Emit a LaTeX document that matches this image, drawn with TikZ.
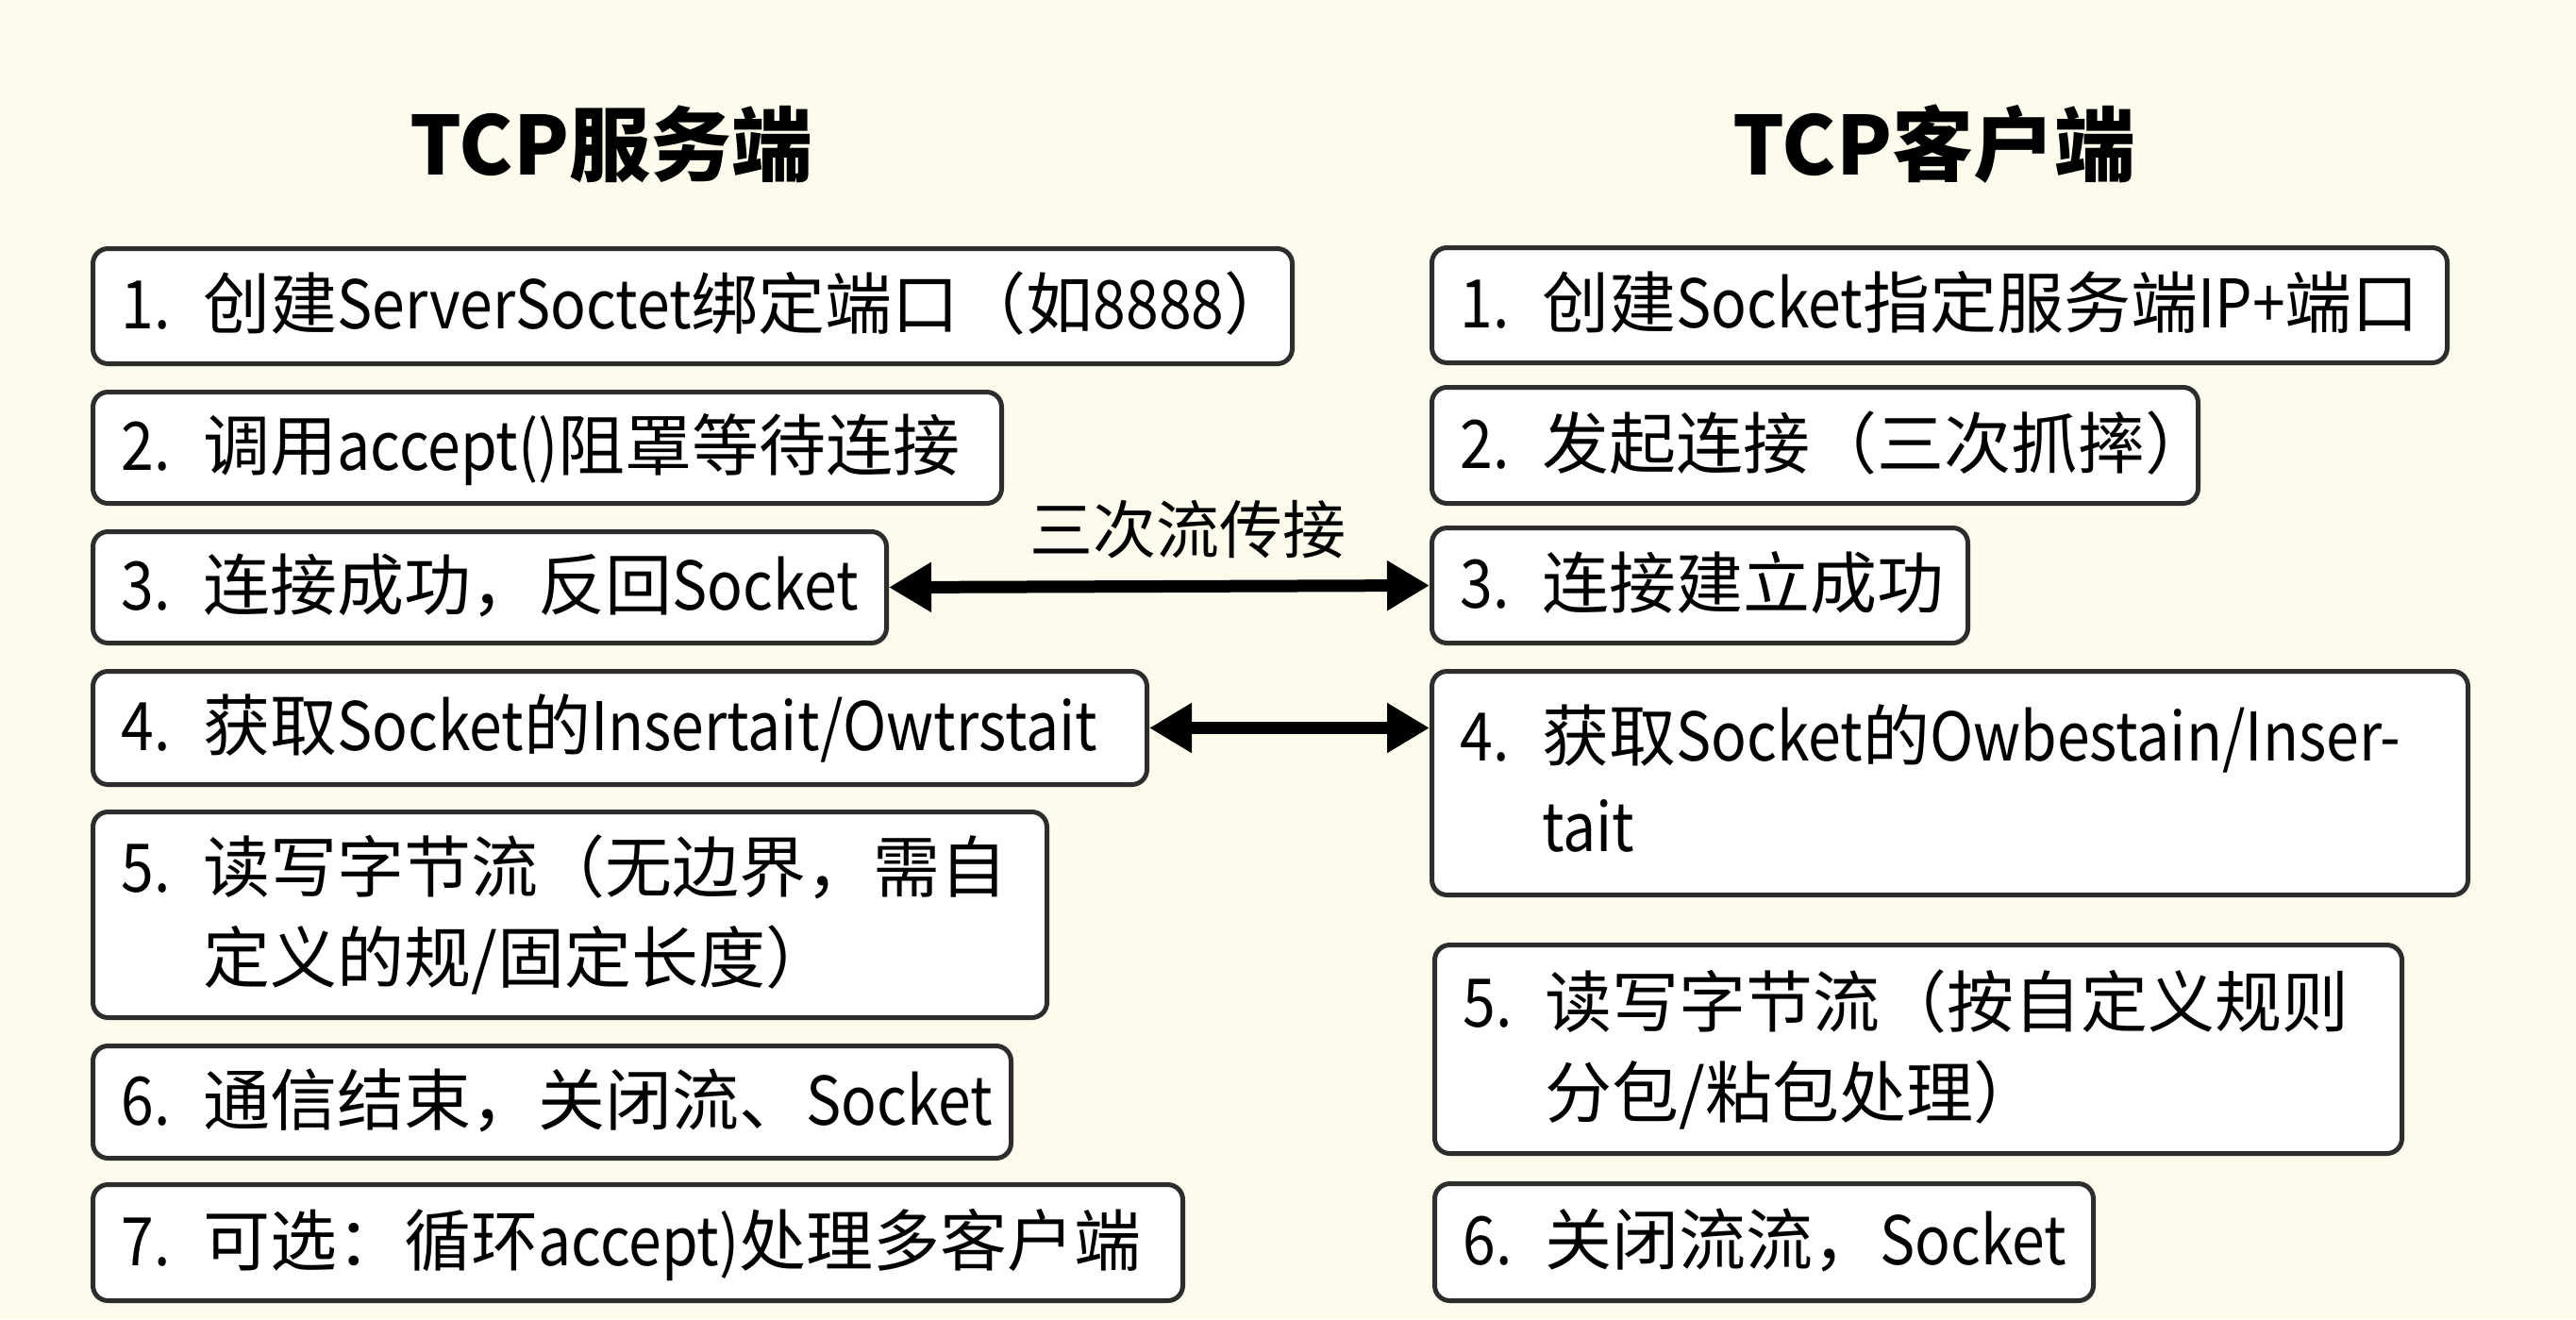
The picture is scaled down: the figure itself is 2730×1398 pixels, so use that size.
\documentclass[tikz,border=0pt]{standalone}
\usepackage{fontspec}
\setmainfont{Noto Sans CJK SC}
\newfontfamily\narrowlat{Noto Sans CJK SC}[FakeStretch=0.88]
\newcommand\lt[1]{{\narrowlat #1}}
\usetikzlibrary{arrows.meta}
\definecolor{bgcream}{RGB}{252,251,236}
\definecolor{boxline}{RGB}{45,45,45}
\newcommand\numtxt[2]{\raisebox{-5pt}[\height][\depth]{\makebox[87pt][l]{\lt{#1}}\begin{tabular}[t]{@{}l@{}}#2\end{tabular}}}
\tikzset{
  stepbox/.style={draw=boxline, line width=5pt, fill=white, rounded corners=16pt,
    anchor=north west, inner xsep=30pt, inner ysep=0pt, align=left,
    font=\fontsize{71}{96}\selectfont},
  titletext/.style={font=\fontsize{86}{100}\selectfont\bfseries},
  biarrow/.style={line width=13pt, {Triangle[length=45pt,width=50pt]}-{Triangle[length=45pt,width=50pt]}},
}
\begin{document}
\begin{tikzpicture}[x=1pt,y=-1pt]
\fill[bgcream] (0,0) rectangle (2730,1398);
\useasboundingbox (0,0) rectangle (2730,1398);

\node[titletext] (tl) at (648,153) {TCP服务端};
\node[titletext] (tr) at (2050,153) {TCP客户端};

% server side
\node[stepbox, minimum height=122pt, text width=1211pt] (L1) at (96,261) {\numtxt{1.}{创建\lt{ServerSoctet}绑定端口（如\lt{8888}）}};
\node[stepbox, minimum height=118pt, text width=903pt] (L2) at (96,413) {\numtxt{2.}{调用\lt{accept()}阻罩等待连接}};
\node[stepbox, minimum height=118pt, text width=781pt] (L3) at (96,561) {\numtxt{3.}{连接成功，反回\lt{Socket}}};
\node[stepbox, minimum height=120pt, text width=1057pt] (L4) at (96,709) {\numtxt{4.}{获取\lt{Socket}的\lt{Insertait/Owtrstait}}};
\node[stepbox, minimum height=218pt, text width=951pt] (L5) at (96,858) {\numtxt{5.}{读写字节流（无边界，需自\\定义的规/固定长度）}};
\node[stepbox, minimum height=119pt, text width=913pt] (L6) at (96,1106) {\numtxt{6.}{通信结束，关闭流、\lt{Socket}}};
\node[stepbox, minimum height=123pt, text width=1095pt] (L7) at (96,1253) {\numtxt{7.}{可选：循环\lt{accept)}处理多客户端}};

% client side
\node[stepbox, minimum height=122pt, text width=1016pt] (R1) at (1515,260) {\numtxt{1.}{创建\lt{Socket}指定服务端\lt{IP+}端口}};
\node[stepbox, minimum height=123pt, text width=752pt] (R2) at (1515,408) {\numtxt{2.}{发起连接（三次抓摔）}};
\node[stepbox, minimum height=122pt, text width=508pt] (R3) at (1515,557) {\numtxt{3.}{连接建立成功}};
\node[stepbox, minimum height=237pt, text width=1038pt] (R4) at (1515,709) {\numtxt{4.}{获取\lt{Socket}的\lt{Owbestain/Inser-}\\\lt{tait}}};
\node[stepbox, minimum height=221pt, text width=965pt] (R5) at (1518,999) {\numtxt{5.}{读写字节流（按自定义规则\\分包/粘包处理）}};
\node[stepbox, minimum height=124pt, text width=638pt] (R6) at (1518,1252) {\numtxt{6.}{关闭流流，\lt{Socket}}};

% connectors
\draw[biarrow] (L3.east) -- (R3.west);
\node[font=\fontsize{67}{80}\selectfont] (lab) at (1259,561) {三次流传接};
\draw[biarrow] (L4.east) -- (L4.east -| R4.west);
\end{tikzpicture}
\end{document}
